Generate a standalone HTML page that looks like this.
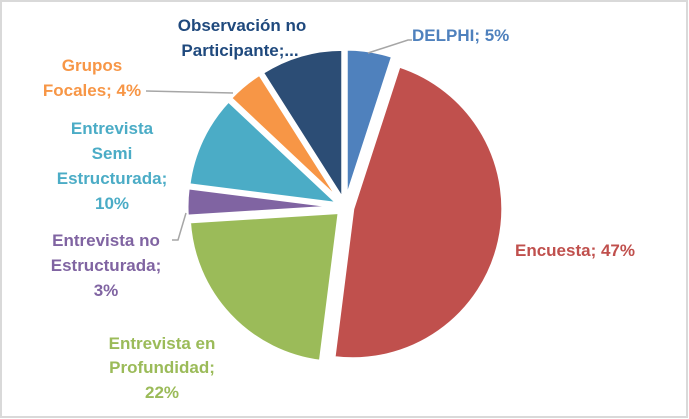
<!DOCTYPE html>
<html><head><meta charset="utf-8"><style>
body{margin:0;background:#fff;}
svg{display:block;font-family:"Liberation Sans",sans-serif;font-weight:bold;}
</style></head><body>
<svg id="chart" width="689" height="419">
<rect x="1" y="1" width="686" height="416" fill="#fff" stroke="#d9d9d9" stroke-width="2"/>
<g id="slices"></g>
<g id="leaders" stroke="#a6a6a6" stroke-width="1.5" fill="none">
<polyline points="368,53 408,40 412,40"/>
<polyline points="146,91 233,93"/>
<polyline points="186,213 178,240 172,240"/>
</g>
<g font-size="17">
<text x="412" y="41" fill="#4F81BD">DELPHI; 5%</text>
<text x="515" y="256" fill="#C0504D">Encuesta; 47%</text>
<g text-anchor="middle" fill="#9BBB59">
<text x="162" y="349">Entrevista en</text><text x="162" y="373">Profundidad;</text><text x="162" y="398">22%</text></g>
<g text-anchor="middle" fill="#8064A2">
<text x="106" y="246">Entrevista no</text><text x="106" y="271">Estructurada;</text><text x="106" y="296">3%</text></g>
<g text-anchor="middle" fill="#4BACC6">
<text x="112" y="134">Entrevista</text><text x="112" y="159">Semi</text><text x="112" y="184">Estructurada;</text><text x="112" y="209">10%</text></g>
<g text-anchor="middle" fill="#F79646">
<text x="92" y="71">Grupos</text><text x="92" y="96">Focales; 4%</text></g>
<g text-anchor="middle" fill="#1F497D">
<text x="242" y="31">Observación no</text><text x="240" y="56">Participante;...</text></g>
</g>
</svg>
<script>
const categories=["DELPHI","Encuesta","Entrevista en Profundidad","Entrevista no Estructurada","Entrevista Semi Estructurada","Grupos Focales","Observación no Participante"];
const values=[5,47,22,3,10,4,9];
const colors=["#4F81BD","#C0504D","#9BBB59","#8064A2","#4BACC6","#F79646","#2C4D75"];
const names=["slice-delphi","slice-encuesta","slice-profundidad","slice-no-estructurada","slice-semi-estructurada","slice-grupos-focales","slice-observacion"];
const cx=345,cy=207,r=150,ex=8;
const total=values.reduce((a,b)=>a+b,0);
const g=document.getElementById('slices');
let a0=0;
values.forEach((v,i)=>{
  const a1=a0+v/total*2*Math.PI, am=(a0+a1)/2;
  const ox=cx+ex*Math.sin(am), oy=cy-ex*Math.cos(am);
  const p=(a)=>[ox+r*Math.sin(a), oy-r*Math.cos(a)];
  const s=p(a0), e=p(a1);
  const large=(a1-a0)>Math.PI?1:0;
  const path=document.createElementNS('http://www.w3.org/2000/svg','path');
  path.setAttribute('d',`M${ox},${oy}L${s[0]},${s[1]}A${r},${r} 0 ${large} 1 ${e[0]},${e[1]}Z`);
  path.setAttribute('fill',colors[i]);
  path.setAttribute('stroke','#fff');
  path.setAttribute('stroke-width','3');
  path.setAttribute('stroke-linejoin','round');
  
  
  g.appendChild(path);
  a0=a1;
});
</script>
</body></html>
